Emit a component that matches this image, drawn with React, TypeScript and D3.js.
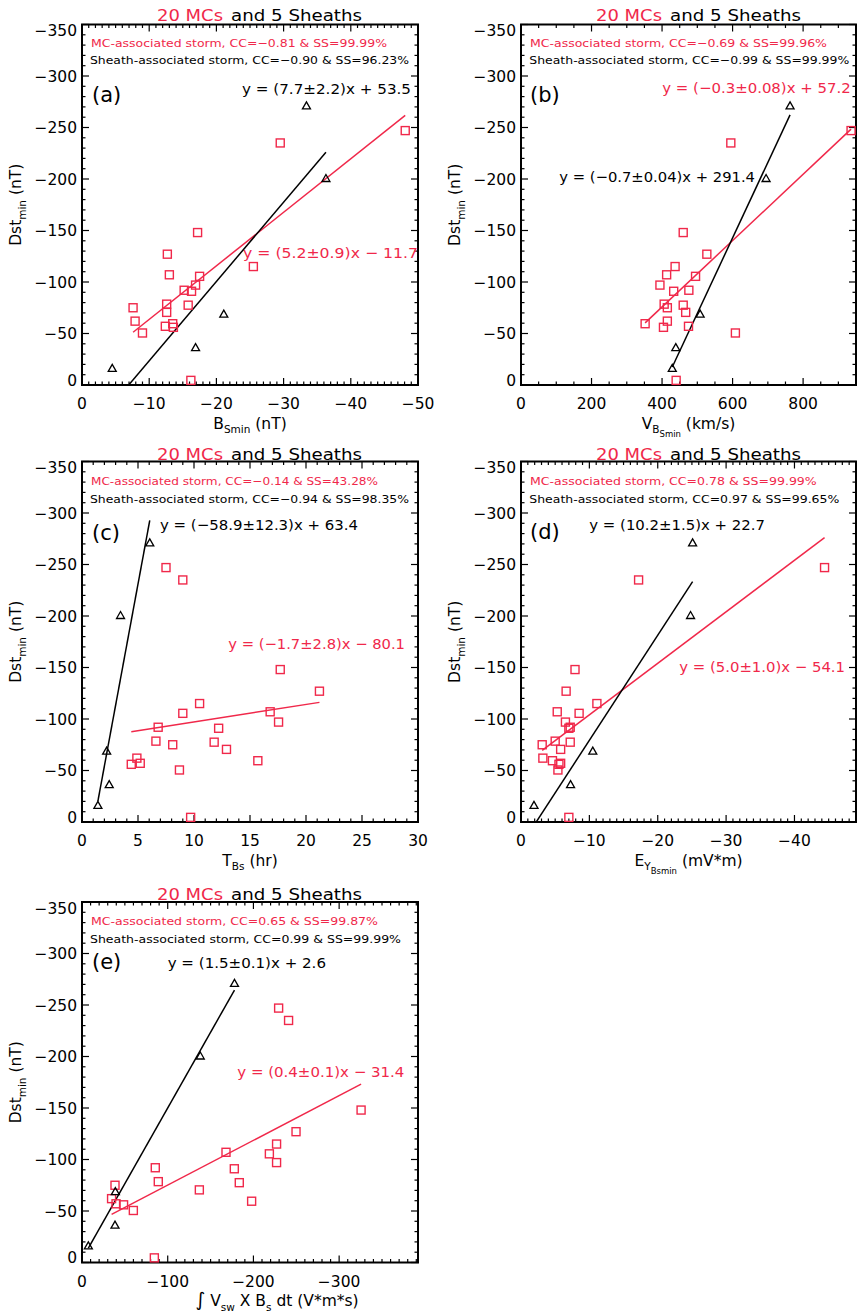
import React from 'react';
import * as d3 from 'd3';

// ---------------- DATA ----------------
// Dst_min (nT) for the 20 MC-associated and 5 sheath-associated storms
const dstMC = [-247, -235, -148, -127, -115, -107, -105.5, -97, -92, -91, -78.5, -77.5, -75, -70.5, -62, -59.5, -57, -56, -50.5, -4.5];
const dstSheath = [-271, -200.5, -68.8, -36.3, -16.2];

// (a) B_Smin (nT)
const bsMinMC = [-48.1, -29.5, -17.2, -12.7, -25.5, -13.0, -17.5, -16.9, -15.2, -16.3, -12.6, -15.8, -7.6, -12.6, -7.9, -13.5, -12.4, -13.6, -9.0, -16.2];
const bsMinSheath = [-33.4, -36.3, -21.1, -16.9, -4.5];
// (b) V_BSmin (km/s)
const vMC = [936, 595, 460, 527, 437, 413, 495, 394, 476, 433, 406, 460, 415, 467, 415, 352, 475, 404, 608, 440];
const vSheath = [763, 695, 508, 439, 429];
// (c) T_Bs (hr)
const tMC = [7.5, 9.0, 17.7, 21.2, 10.5, 16.8, 9.0, 17.55, 6.8, 12.2, 6.6, 11.8, 8.1, 12.9, 4.9, 15.7, 5.2, 4.4, 8.7, 9.7];
const tSheath = [6.05, 3.44, 2.2, 2.43, 1.42];
// (d) E_Y_Bsmin (mV*m)
const eyMC = [-44.4, -17.2, -7.9, -6.6, -11.1, -5.3, -8.5, -6.5, -7.2, -7.0, -5.0, -7.2, -3.1, -5.8, -3.2, -4.6, -5.8, -5.55, -5.4, -7.0];
const eySheath = [-25.1, -24.8, -10.5, -7.25, -1.9];
// (e) integral V_sw x B_s dt (V*m*s)
const intMC = [-229.4, -241, -325.6, -249.7, -227, -168, -218.6, -227, -85.5, -177.7, -89, -183.5, -38.5, -136.9, -34.5, -197.9, -39.7, -48.5, -59.9, -84.4];
const intSheath = [-177.9, -138, -38.9, -38.5, -7.4];

// linear fits drawn (slope, intercept) per panel a..e
const fitSlopeMC = [5.2, -0.322, -1.7, 5.0, 0.434];
const fitInterceptMC = [-11.7, 53, -80.1, -54.1, -31.8];
const fitSlopeSheath = [7.7, -0.733, -58.9, 10.2, 1.47];
const fitInterceptSheath = [53.5, 297, 63.4, 22.7, -3];

// statistics text
const ccMC = ['\u22120.81', '\u22120.69', '\u22120.14', '0.78', '0.65'];
const ssMC = ['99.99%', '99.96%', '43.28%', '99.99%', '99.87%'];
const ccSheath = ['\u22120.90', '\u22120.99', '\u22120.94', '0.97', '0.99'];
const ssSheath = ['96.23%', '99.99%', '98.35%', '99.65%', '99.99%'];
const eqMC = ['y = (5.2\u00b10.9)x \u2212 11.7', 'y = (\u22120.3\u00b10.08)x + 57.2', 'y = (\u22121.7\u00b12.8)x \u2212 80.1', 'y = (5.0\u00b11.0)x \u2212 54.1', 'y = (0.4\u00b10.1)x \u2212 31.4'];
const eqSheath = ['y = (7.7\u00b12.2)x + 53.5', 'y = (\u22120.7\u00b10.04)x + 291.4', 'y = (\u221258.9\u00b112.3)x + 63.4', 'y = (10.2\u00b11.5)x + 22.7', 'y = (1.5\u00b10.1)x + 2.6'];
const panelTags = ['(a)', '(b)', '(c)', '(d)', '(e)'];

// axis ticks
const yTicks = [0, -50, -100, -150, -200, -250, -300, -350];
const xTicksA = [0, -10, -20, -30, -40, -50];
const xTicksB = [0, 200, 400, 600, 800];
const xTicksC = [0, 5, 10, 15, 20, 25, 30];
const xTicksD = [0, -10, -20, -30, -40];
const xTicksE = [0, -100, -200, -300];

// ---------------- LAYOUT / STYLE ----------------
const RED = '#f0284a';
const FONT = '"DejaVu Sans", Verdana, sans-serif';
const COL_X = [82, 521];
const COL_W = [336, 335];
const ROW_Y = [24.5, 461.5, 902];
const PLOT_H = 360.5;
const ROW_TXT = [0, 438, 878];
const TITLE_Y = [20.5, 460, 899.5];

type Part = { t: string; lvl?: number; size?: number };

const panels = [
  {
    col: 0, row: 0, x: [bsMinMC, bsMinSheath], domain: [0, -50], ticks: xTicksA, minor: 1,
    xTitle: [{ t: 'B' }, { t: 'Smin', lvl: 1 }, { t: ' (nT)' }] as Part[], xTitleDx: 0,
    tag: [92, 101.5],
    mcTxt: [91, 47, 296], shTxt: [90, 64, 319],
    eqSh: [242, 94, 169], eqMC: [243, 257.5, 175],
  },
  {
    col: 1, row: 0, x: [vMC, vSheath], domain: [0, 950], ticks: xTicksB, minor: 50,
    xTitle: [{ t: 'V' }, { t: 'B', lvl: 1 }, { t: 'Smin', lvl: 2 }, { t: '  (km/s)' }] as Part[], xTitleDx: 0,
    tag: [530, 101.5],
    mcTxt: [530, 47, 297], shTxt: [529.3, 64, 320],
    eqSh: [559.3, 181.7, 195.7], eqMC: [662.3, 92.7, 188.4],
  },
  {
    col: 0, row: 1, x: [tMC, tSheath], domain: [0, 30], ticks: xTicksC, minor: 1,
    xTitle: [{ t: 'T' }, { t: 'Bs', lvl: 1 }, { t: ' (hr)' }] as Part[], xTitleDx: 0,
    tag: [92, 539.5],
    mcTxt: [91, 485, 287], shTxt: [90, 502.5, 319],
    eqSh: [160, 530, 198], eqMC: [228.3, 649, 176.7],
  },
  {
    col: 1, row: 1, x: [eyMC, eySheath], domain: [0, -49], ticks: xTicksD, minor: 1,
    xTitle: [{ t: 'E' }, { t: 'Y', lvl: 1 }, { t: 'Bsmin', lvl: 2 }, { t: '  (mV*m)' }] as Part[], xTitleDx: 0,
    tag: [530, 538.5],
    mcTxt: [530, 485, 286.7], shTxt: [529.3, 502.5, 310],
    eqSh: [589.3, 530, 175.7], eqMC: [679.3, 672.3, 165.7],
  },
  {
    col: 0, row: 2, x: [intMC, intSheath], domain: [0, -392], ticks: xTicksE, minor: 10,
    xTitle: [{ t: '\u222b', size: 19 }, { t: ' V' }, { t: 'sw', lvl: 1 }, { t: ' X B' }, { t: 's', lvl: 1 }, { t: ' dt (V*m*s)' }] as Part[], xTitleDx: 27,
    tag: [92, 969],
    mcTxt: [91, 925, 287], shTxt: [90, 942.5, 311],
    eqSh: [167.7, 968.3, 158.3], eqMC: [237.3, 1077, 167],
  },
];

const fmt = (v: number) => (v < 0 ? '\u2212' + Math.abs(v) : String(v));

function Rich({ parts, x, y, anchor, rotate }: { parts: Part[]; x: number; y: number; anchor: string; rotate?: boolean }) {
  const offs = [0, 4.5, 8];
  const sizes = [15.5, 10.5, 8.5];
  let prev = 0;
  return (
    <text x={x} y={y} textAnchor={anchor} fontFamily={FONT} fill="#000"
      transform={rotate ? `rotate(-90 ${x} ${y})` : undefined}>
      {parts.map((p, i) => {
        const l = p.lvl || 0;
        const dy = offs[l] - prev;
        prev = offs[l];
        return <tspan key={i} dy={dy} fontSize={p.size || sizes[l]}>{p.t}</tspan>;
      })}
    </text>
  );
}

function FitText({ pos, txt, color, size }: { pos: number[]; txt: string; color: string; size: number }) {
  return (
    <text x={pos[0]} y={pos[1]} fontSize={size} fill={color} fontFamily={FONT}
      textLength={pos[2]} lengthAdjust="spacingAndGlyphs">{txt}</text>
  );
}

function Panel({ p, i }: { p: any; i: number }) {
  const left = COL_X[p.col];
  const w = COL_W[p.col];
  const top = ROW_Y[p.row];
  const bottom = top + PLOT_H;
  const xs = d3.scaleLinear().domain(p.domain).range([left, left + w]);
  const ys = d3.scaleLinear().domain([0, -350]).range([bottom, top]);
  const [d0, d1] = p.domain;
  const sgn = Math.sign(d1 - d0);
  const nMinor = Math.floor(Math.abs(d1 - d0) / p.minor + 1e-6);
  const minorX = d3.range(0, nMinor + 1).map((k) => d0 + sgn * k * p.minor)
    .filter((v) => !p.ticks.some((t: number) => Math.abs(t - v) < 1e-6));
  const minorY = d3.range(0, 36).map((k) => -k * 10).filter((v) => v % 50 !== 0);
  const clipId = 'clip' + i;
  const rowT = ROW_TXT[p.row];
  const dx = left - 82;
  const line = d3.line<number[]>().x((d) => xs(d[0])).y((d) => ys(d[1]));
  const fitLine = (xv: number[], s: number, b: number) => {
    const ext = d3.extent(xv) as [number, number];
    return line([[ext[0], s * ext[0] + b], [ext[1], s * ext[1] + b]]) || '';
  };
  const [mcX, shX] = p.x;
  const MAJ = 7, MIN = 3.5;
  return (
    <g>
      <defs>
        <clipPath id={clipId}><rect x={left} y={top} width={w} height={PLOT_H} /></clipPath>
      </defs>
      {/* title */}
      <text x={157 + dx} y={TITLE_Y[p.row]} fontSize={16} fill={RED} fontFamily={FONT} textLength={66} lengthAdjust="spacingAndGlyphs">20 MCs</text>
      <text x={231 + dx} y={TITLE_Y[p.row]} fontSize={16} fill="#000" fontFamily={FONT} textLength={131} lengthAdjust="spacingAndGlyphs">and 5 Sheaths</text>
      {/* ticks */}
      <g stroke="#000" strokeWidth={1.2}>
        {p.ticks.map((t: number) => (
          <g key={'xt' + t}>
            <line x1={xs(t)} x2={xs(t)} y1={bottom} y2={bottom - MAJ} />
            <line x1={xs(t)} x2={xs(t)} y1={top} y2={top + MAJ} />
          </g>
        ))}
        {minorX.map((t: number) => (
          <g key={'xm' + t}>
            <line x1={xs(t)} x2={xs(t)} y1={bottom} y2={bottom - MIN} />
            <line x1={xs(t)} x2={xs(t)} y1={top} y2={top + MIN} />
          </g>
        ))}
        {yTicks.map((t) => (
          <g key={'yt' + t}>
            <line x1={left} x2={left + MAJ} y1={ys(t)} y2={ys(t)} />
            <line x1={left + w} x2={left + w - MAJ} y1={ys(t)} y2={ys(t)} />
          </g>
        ))}
        {minorY.map((t) => (
          <g key={'ym' + t}>
            <line x1={left} x2={left + MIN} y1={ys(t)} y2={ys(t)} />
            <line x1={left + w} x2={left + w - MIN} y1={ys(t)} y2={ys(t)} />
          </g>
        ))}
      </g>
      <rect x={left} y={top} width={w} height={PLOT_H} fill="none" stroke="#000" strokeWidth={2} />
      {/* tick labels */}
      {p.ticks.map((t: number) => (
        <text key={'xl' + t} x={xs(t)} y={bottom + 24} fontSize={15.5} textAnchor="middle" fontFamily={FONT}>{fmt(t)}</text>
      ))}
      {yTicks.map((t) => (
        <text key={'yl' + t} x={left - 5} y={ys(t) + 5.5 + (t === -350 ? 6 : t === 0 ? -5 : 0)} fontSize={15.5} textAnchor="end" fontFamily={FONT}>{fmt(t)}</text>
      ))}
      {/* axis titles */}
      <Rich parts={p.xTitle} x={left + w / 2 + p.xTitleDx} y={bottom + 43.5} anchor="middle" />
      <Rich parts={[{ t: 'Dst' }, { t: 'min', lvl: 1 }, { t: ' (nT)' }]} x={left - 61} y={(top + bottom) / 2} anchor="middle" rotate />
      {/* annotations */}
      <FitText pos={p.mcTxt} txt={`MC-associated storm, CC=${ccMC[i]} & SS=${ssMC[i]}`} color={RED} size={11} />
      <FitText pos={p.shTxt} txt={`Sheath-associated storm, CC=${ccSheath[i]} & SS=${ssSheath[i]}`} color="#000" size={11} />
      <text x={p.tag[0]} y={p.tag[1]} fontSize={21} fontFamily={FONT}>{panelTags[i]}</text>
      <FitText pos={p.eqSh} txt={eqSheath[i]} color="#000" size={14.5} />
      <FitText pos={p.eqMC} txt={eqMC[i]} color={RED} size={14.5} />
      {/* fit lines */}
      <g clipPath={`url(#${clipId})`} fill="none" strokeWidth={1.5}>
        <path d={fitLine(mcX, fitSlopeMC[i], fitInterceptMC[i])} stroke={RED} />
        <path d={fitLine(shX, fitSlopeSheath[i], fitInterceptSheath[i])} stroke="#000" />
      </g>
      {/* markers */}
      {mcX.map((v: number, k: number) => (
        <rect key={'m' + k} x={xs(v) - 4} y={ys(dstMC[k]) - 4} width={8} height={8} fill="none" stroke={RED} strokeWidth={1.4} />
      ))}
      {shX.map((v: number, k: number) => (
        <path key={'s' + k} d={`M${xs(v)},${ys(dstSheath[k]) - 4}L${xs(v) + 4},${ys(dstSheath[k]) + 3}L${xs(v) - 4},${ys(dstSheath[k]) + 3}Z`} fill="none" stroke="#000" strokeWidth={1.3} />
      ))}
    </g>
  );
}

export default function App() {
  return (
    <svg width={857} height={1312} style={{ position: 'absolute', left: 0, top: 0, background: '#fff' }}>
      <rect x={0} y={0} width={857} height={1312} fill="#fff" />
      {panels.map((p, i) => <Panel key={i} p={p} i={i} />)}
    </svg>
  );
}
